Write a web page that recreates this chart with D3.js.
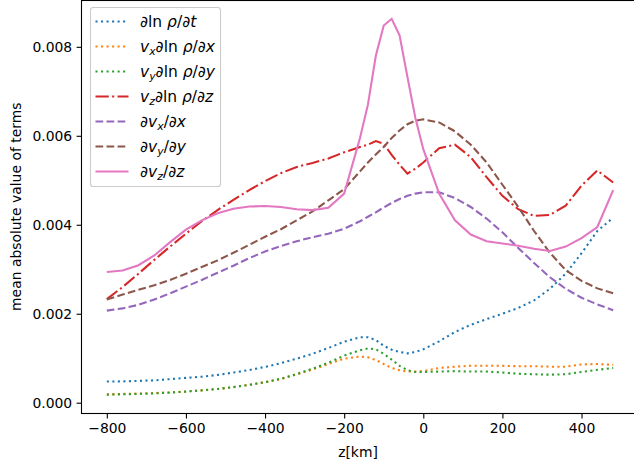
<!DOCTYPE html>
<html>
<head>
<meta charset="utf-8">
<script src="https://cdn.jsdelivr.net/npm/d3@7"></script>
<style>
	body { margin: 0; background: #fff; }
	svg { display: block; font-family: "DejaVu Sans", sans-serif; }
</style>
</head>
<body>
<script>
// height z in km (finer around the peak)
var zKm = [-800, -760, -720, -680, -640, -600, -560, -520, -480, -440, -400, -360, -320, -280, -240, -200, -160,
	-140, -120, -100, -80, -60, -40, -20, 0,
	40, 80, 120, 160, 200, 240, 280, 320, 360, 400, 440, 480];

var dlnrhoDt = [0.000475, 0.00048, 0.00049, 0.000503, 0.00053, 0.000558, 0.000585, 0.000625, 0.000678, 0.000735, 0.000805, 0.00089, 0.00099, 0.0011, 0.00123, 0.00137, 0.00147,
	0.00147, 0.00141, 0.00128, 0.00119, 0.00114, 0.00111, 0.00114, 0.0012,
	0.00138, 0.00159, 0.00175, 0.00188, 0.002, 0.00213, 0.0023, 0.00256, 0.0029, 0.00336, 0.00386, 0.00416];

var vxDlnrhoDx = [0.00019, 0.000198, 0.000206, 0.000216, 0.000232, 0.000252, 0.000278, 0.00031, 0.00035, 0.0004, 0.00046, 0.00053, 0.000635, 0.000745, 0.00087, 0.00099, 0.00104,
	0.00102, 0.00096, 0.00087, 0.00078, 0.00073, 0.0007, 0.0007, 0.00071,
	0.00078, 0.00081, 0.00083, 0.00083, 0.00083, 0.00082, 0.00082, 0.00081, 0.00081, 0.00086, 0.00087, 0.00085];

var vyDlnrhoDy = [0.00018, 0.000188, 0.000198, 0.00021, 0.000228, 0.00025, 0.000277, 0.00031, 0.00035, 0.000402, 0.000463, 0.00054, 0.000645, 0.000765, 0.0009, 0.00106, 0.00118,
	0.00122, 0.0012, 0.0011, 0.00097, 0.00083, 0.00073, 0.00069, 0.00069,
	0.0007, 0.00071, 0.0007, 0.0007, 0.00068, 0.00065, 0.00064, 0.00063, 0.00064, 0.00069, 0.00074, 0.00078];

var vzDlnrhoDz = [0.00233, 0.0026, 0.0029, 0.00321, 0.00351, 0.0038, 0.00408, 0.00433, 0.00456, 0.00478, 0.00498, 0.00516, 0.0053, 0.00539, 0.00549, 0.00563, 0.00575,
	0.0058, 0.00588, 0.00582, 0.00557, 0.00535, 0.00515, 0.00526, 0.0054,
	0.00572, 0.0058, 0.00552, 0.00507, 0.00465, 0.00435, 0.0042, 0.00422, 0.00443, 0.00488, 0.00522, 0.00495];

var dvxDx = [0.00207, 0.00212, 0.0022, 0.00232, 0.00246, 0.00261, 0.00276, 0.00292, 0.00308, 0.00325, 0.0034, 0.00352, 0.00363, 0.00372, 0.0038, 0.00391, 0.00408,
	0.00418, 0.00428, 0.00439, 0.00449, 0.00458, 0.00465, 0.0047, 0.00473,
	0.00473, 0.0046, 0.0044, 0.00414, 0.00383, 0.00348, 0.00314, 0.00282, 0.00256, 0.00236, 0.00221, 0.00208];

var dvyDy = [0.00232, 0.00243, 0.00254, 0.00264, 0.00276, 0.0029, 0.00305, 0.0032, 0.00337, 0.00355, 0.00373, 0.0039, 0.0041, 0.0043, 0.00455, 0.0048, 0.0052,
	0.0054, 0.00558, 0.00575, 0.00595, 0.00612, 0.00626, 0.00634, 0.00637,
	0.0063, 0.0061, 0.0058, 0.0054, 0.0049, 0.0044, 0.00386, 0.00337, 0.00298, 0.00274, 0.00257, 0.00246];

var dvzDz = [0.00294, 0.00297, 0.00309, 0.00331, 0.00361, 0.00389, 0.0041, 0.00426, 0.00436, 0.00441, 0.00442, 0.0044, 0.00435, 0.00433, 0.00438, 0.0047, 0.00595,
	0.0067, 0.0078, 0.00848, 0.00863, 0.00826, 0.00732, 0.0064, 0.0057,
	0.0047, 0.0041, 0.00378, 0.00363, 0.00358, 0.00353, 0.00346, 0.00341, 0.00351, 0.0037, 0.00395, 0.00478];

var xTicks = [-800, -600, -400, -200, 0, 200, 400];
var yTicks = [0, 0.002, 0.004, 0.006, 0.008];

// dash patterns in px (matplotlib defaults at lw 1.5pt, 100 dpi)
var DOT = "2.08,3.44", DASH = "7.7,3.33", DASHDOT = "13.3,3.33,2.08,3.33";

// legend labels: pieces of text, i = italic, sub = subscript
var series = [
	{ values: dlnrhoDt, color: "#1f77b4", dash: DOT,
		label: [{ t: "∂", i: 1 }, { t: "ln " }, { t: "ρ", i: 1 }, { t: "/" }, { t: "∂t", i: 1 }] },
	{ values: vxDlnrhoDx, color: "#ff7f0e", dash: DOT,
		label: [{ t: "v", i: 1 }, { t: "x", i: 1, sub: 1 }, { t: "∂", i: 1 }, { t: "ln " }, { t: "ρ", i: 1 }, { t: "/" }, { t: "∂x", i: 1 }] },
	{ values: vyDlnrhoDy, color: "#2ca02c", dash: DOT,
		label: [{ t: "v", i: 1 }, { t: "y", i: 1, sub: 1 }, { t: "∂", i: 1 }, { t: "ln " }, { t: "ρ", i: 1 }, { t: "/" }, { t: "∂y", i: 1 }] },
	{ values: vzDlnrhoDz, color: "#d62728", dash: DASHDOT,
		label: [{ t: "v", i: 1 }, { t: "z", i: 1, sub: 1 }, { t: "∂", i: 1 }, { t: "ln " }, { t: "ρ", i: 1 }, { t: "/" }, { t: "∂z", i: 1 }] },
	{ values: dvxDx, color: "#9467bd", dash: DASH,
		label: [{ t: "∂v", i: 1 }, { t: "x", i: 1, sub: 1 }, { t: "/" }, { t: "∂x", i: 1 }] },
	{ values: dvyDy, color: "#8c564b", dash: DASH,
		label: [{ t: "∂v", i: 1 }, { t: "y", i: 1, sub: 1 }, { t: "/" }, { t: "∂y", i: 1 }] },
	{ values: dvzDz, color: "#e377c2", dash: null,
		label: [{ t: "∂v", i: 1 }, { t: "z", i: 1, sub: 1 }, { t: "/" }, { t: "∂z", i: 1 }] }
];

var W = 634, H = 467;
var margin = { top: 0, left: 81.5 },
	width = 557,
	height = 413.5;
var fs = 13.9;

var svg = d3.select("body").append("svg")
	.attr("width", W)
	.attr("height", H);

var g = svg.append("g")
	.attr("transform", "translate(" + margin.left + "," + margin.top + ")");

// matplotlib style 5% padding around the data
var zExt = d3.extent(zKm);
var zPad = (zExt[1] - zExt[0]) * 0.05;
var allVals = d3.merge(series.map(function(s) { return s.values; }));
var vExt = d3.extent(allVals);
var vPad = (vExt[1] - vExt[0]) * 0.05;

var x = d3.scaleLinear().domain([zExt[0] - zPad, zExt[1] + zPad]).range([0, width]);
var y = d3.scaleLinear().domain([vExt[0] - vPad, vExt[1] + vPad]).range([height, 0]);

// lines
var line = d3.line()
	.x(function(d) { return x(d[0]); })
	.y(function(d) { return y(d[1]); });

series.forEach(function(s) {
	g.append("path")
		.datum(zKm.map(function(z, i) { return [z, s.values[i]]; }))
		.attr("fill", "none")
		.attr("stroke", s.color)
		.attr("stroke-width", 2.08)
		.attr("stroke-dasharray", s.dash)
		.attr("d", line);
});

// axes
var fmtX = function(d) { return d < 0 ? "\u2212" + Math.abs(d) : String(d); };
var xAxis = g.append("g")
	.attr("transform", "translate(0," + height + ")")
	.call(d3.axisBottom(x).tickValues(xTicks).tickFormat(fmtX).tickSize(4.9).tickSizeOuter(0).tickPadding(4.4));
var yAxis = g.append("g")
	.call(d3.axisLeft(y).tickValues(yTicks).tickFormat(d3.format(".3f")).tickSize(4.9).tickSizeOuter(0).tickPadding(4.4));

[xAxis, yAxis].forEach(function(a) {
	a.selectAll("path.domain").remove();
	a.selectAll("line").attr("stroke", "#000").attr("stroke-width", 1.1);
	a.selectAll("text").attr("font-size", fs).attr("fill", "#000")
		.attr("font-family", "DejaVu Sans, sans-serif");
});

// spines
g.append("rect")
	.attr("x", 0).attr("y", 0.5)
	.attr("width", width).attr("height", height - 0.5)
	.attr("fill", "none")
	.attr("stroke", "#000")
	.attr("stroke-width", 1.1);

// axis titles
svg.append("text")
	.attr("x", margin.left + width / 2 - 2)
	.attr("y", 457)
	.attr("text-anchor", "middle")
	.attr("font-size", fs)
	.text("z[km]");

svg.append("text")
	.attr("transform", "translate(21," + (margin.top + height / 2) + ") rotate(-90)")
	.attr("text-anchor", "middle")
	.attr("font-size", fs)
	.text("mean absolute value of terms");

// legend
var lfs = 15.5;
var lg = svg.append("g").attr("transform", "translate(90,7)");
lg.append("rect")
	.attr("x", 0.5).attr("y", 0.5)
	.attr("width", 130).attr("height", 179)
	.attr("rx", 2.8)
	.attr("fill", "#fff").attr("fill-opacity", 0.8)
	.attr("stroke", "#cccccc").attr("stroke-width", 1.1);

series.forEach(function(s, i) {
	var cy = 14.5 + i * 25;
	lg.append("line")
		.attr("x1", 5.5).attr("x2", 38.5)
		.attr("y1", cy).attr("y2", cy)
		.attr("stroke", s.color)
		.attr("stroke-width", 2.08)
		.attr("stroke-dasharray", s.dash);
	var t = lg.append("text")
		.attr("x", 50)
		.attr("y", cy + 5.5)
		.attr("font-size", lfs);
	s.label.forEach(function(p, k) {
		var sp = t.append("tspan").text(p.t);
		if (p.i) sp.attr("font-style", "italic");
		if (p.sub) sp.attr("font-size", lfs * 0.7).attr("dy", 3);
		else if (k > 0 && s.label[k - 1].sub) sp.attr("dy", -3);
	});
});
</script>
</body>
</html>
